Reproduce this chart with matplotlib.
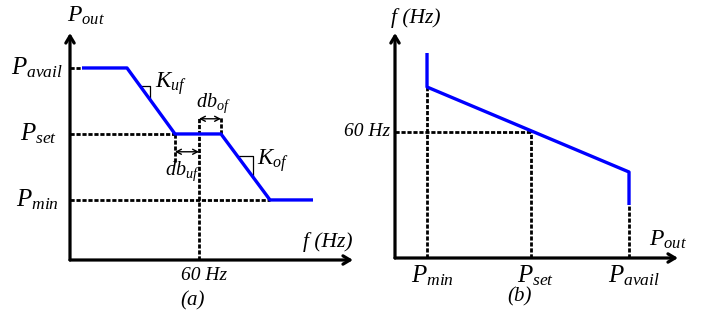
import matplotlib.pyplot as plt

plt.rcParams['mathtext.fontset'] = 'custom'
plt.rcParams['mathtext.rm'] = 'Liberation Serif'
plt.rcParams['mathtext.it'] = 'Liberation Serif:italic'
plt.rcParams['font.family'] = 'Liberation Serif'

# ---- panel (a): P_out vs f (droop with deadbands) ----
P_min, P_set, P_avail = 1.0, 2.0, 3.0
f_nom = 60.0
f_a = [57.66, 58.56, 59.52, 60.44, 61.42, 62.28]
p_a = [P_avail, P_avail, P_set, P_set, P_min, P_min]
f_uf, f_of = f_a[2], f_a[3]
db_of_level = 2.23
db_uf_level = 1.73
db_uf_bottom = 1.56

# ---- panel (b): f vs P_out ----
Pb_min, Pb_set, Pb_avail = 1.0, 2.03, 3.0
f_b_line = [60.9, 59.2]
f_b_top = 61.58
f_b_bottom = 58.54

BLUE = '#0000ff'
W, H = 709, 315
fig = plt.figure(figsize=(W / 100, H / 100), dpi=100)


def add_ax(x0, x1, y_top, y_bot, xlim, ylim):
    ax = fig.add_axes([x0 / W, (H - y_bot) / H, (x1 - x0) / W, (y_bot - y_top) / H])
    ax.set_xlim(*xlim)
    ax.set_ylim(*ylim)
    ax.axis('off')
    return ax


def axes_arrows(ax):
    x0, x1 = ax.get_xlim()
    y0, y1 = ax.get_ylim()
    ap = dict(arrowstyle='->,head_length=0.5,head_width=0.3', lw=2.3, color='black',
              shrinkA=0, shrinkB=0)
    ax.annotate('', xy=(x1, y0), xytext=(x0, y0), arrowprops=ap, annotation_clip=False)
    ax.annotate('', xy=(x0, y1), xytext=(x0, y0), arrowprops=ap, annotation_clip=False)


dash = dict(color='black', lw=2.0, linestyle=(0, (1.5, 0.65)), clip_on=False)
lab = dict(textcoords='offset pixels', annotation_clip=False)

# ================= (a) =================
ax = add_ax(70, 353, 33, 260, (57.42, 63.08), (0.09, 3.53))
xmin, xmax = ax.get_xlim()
ymin, ymax = ax.get_ylim()

ax.plot([xmin, f_a[0]], [P_avail, P_avail], **dash)
ax.plot([xmin, f_uf], [P_set, P_set], **dash)
ax.plot([xmin, f_a[4]], [P_min, P_min], **dash)
ax.plot([f_nom, f_nom], [ymin, db_of_level + 0.03], **dash)
ax.plot([f_of, f_of], [P_set, db_of_level + 0.03], **dash)
ax.plot([f_uf, f_uf], [P_set, db_uf_bottom], **dash)
ax.plot(f_a, p_a, color=BLUE, lw=2.4, solid_capstyle='butt', zorder=5)

dbl = dict(arrowstyle='<->,head_length=0.35,head_width=0.18', lw=1.0, color='black',
           shrinkA=0, shrinkB=0)
ax.annotate('', xy=(f_of, db_of_level), xytext=(f_nom, db_of_level), arrowprops=dbl)
ax.annotate('', xy=(f_nom, db_uf_level), xytext=(f_uf, db_uf_level), arrowprops=dbl)

# slope triangles
def slope_tri(ax, fa, pa, fb, pb, f_start, run):
    k = (pb - pa) / (fb - fa)
    p_start = pa + k * (f_start - fa)
    f_end = f_start + run
    ax.plot([f_start, f_end, f_end], [p_start, p_start, pa + k * (f_end - fa)],
            color='black', lw=0.9)

slope_tri(ax, f_a[1], p_a[1], f_a[2], p_a[2], 58.82, 0.2)
slope_tri(ax, f_a[3], p_a[3], f_a[4], p_a[4], 60.76, 0.32)

ax.annotate(r'$P_{out}$', xy=(xmin, ymax), xytext=(-3, 6), ha='left', va='bottom', fontsize=17, **lab)
ax.annotate('f (Hz)', xy=(xmax, ymin), xytext=(-1, 8), ha='right', va='bottom', fontsize=15.5,
            style='italic', **lab)
ax.annotate(r'$P_{avail}$', xy=(xmin, P_avail), xytext=(-7, 0), ha='right', va='center', fontsize=18, **lab)
ax.annotate(r'$P_{set}$', xy=(xmin, P_set), xytext=(-13, 0), ha='right', va='center', fontsize=18, **lab)
ax.annotate(r'$P_{min}$', xy=(xmin, P_min), xytext=(-11, 0), ha='right', va='center', fontsize=18, **lab)
ax.annotate('60 Hz', xy=(f_nom, ymin), xytext=(5, -7), ha='center', va='top', fontsize=14,
            style='italic', **lab)
ax.annotate('(a)', xy=(f_nom, ymin), xytext=(-6, -31), ha='center', va='top', fontsize=15,
            style='italic', **lab)
ax.annotate(r'$K_{uf}$', xy=(58.86, 2.7), xytext=(13, 4), ha='left', va='center', fontsize=16.5, **lab)
ax.annotate(r'$K_{of}$', xy=(61.2, 1.6), xytext=(-2, 0), ha='left', va='center', fontsize=16.5, **lab)
ax.annotate(r'$db_{of}$', xy=((f_nom + f_of) / 2, db_of_level), xytext=(3, 4), ha='center',
            va='bottom', fontsize=14.5, **lab)
ax.annotate(r'$db_{uf}$', xy=((f_nom + f_uf) / 2, db_uf_level), xytext=(-5, -8), ha='center',
            va='top', fontsize=14.5, **lab)
axes_arrows(ax)

# ================= (b) =================
bx = add_ax(395, 678, 33, 258, (0.683, 3.485), (57.48, 61.98))
xmin, xmax = bx.get_xlim()
ymin, ymax = bx.get_ylim()
k_b = (f_b_line[1] - f_b_line[0]) / (Pb_avail - Pb_min)
f_at_set = f_b_line[0] + k_b * (Pb_set - Pb_min)

bx.plot([xmin, Pb_set], [f_nom, f_nom], **dash)
bx.plot([Pb_set, Pb_set], [ymin, f_at_set], **dash)
bx.plot([Pb_min, Pb_min], [ymin, f_b_line[0]], **dash)
bx.plot([Pb_avail, Pb_avail], [ymin, f_b_bottom], **dash)
bx.plot([Pb_min, Pb_min, Pb_avail, Pb_avail], [f_b_top, f_b_line[0], f_b_line[1], f_b_bottom],
        color=BLUE, lw=2.4, solid_capstyle='butt', zorder=5)

bx.annotate('f (Hz)', xy=(xmin, ymax), xytext=(-4, 5), ha='left', va='bottom', fontsize=15.5,
            style='italic', **lab)
bx.annotate('60 Hz', xy=(xmin, f_nom), xytext=(-5, 0), ha='right', va='center', fontsize=14,
            style='italic', **lab)
bx.annotate(r'$P_{out}$', xy=(xmax, ymin), xytext=(9, 7), ha='right', va='bottom', fontsize=17, **lab)
for pv, t in [(Pb_min, r'$P_{min}$'), (Pb_set, r'$P_{set}$'), (Pb_avail, r'$P_{avail}$')]:
    bx.annotate(t, xy=(pv, ymin), xytext=(5, -5), ha='center', va='top', fontsize=18, **lab)
bx.annotate('(b)', xy=(Pb_set, ymin), xytext=(-12, -29), ha='center', va='top', fontsize=15,
            style='italic', **lab)
axes_arrows(bx)

fig.savefig('out.png', dpi=100)
